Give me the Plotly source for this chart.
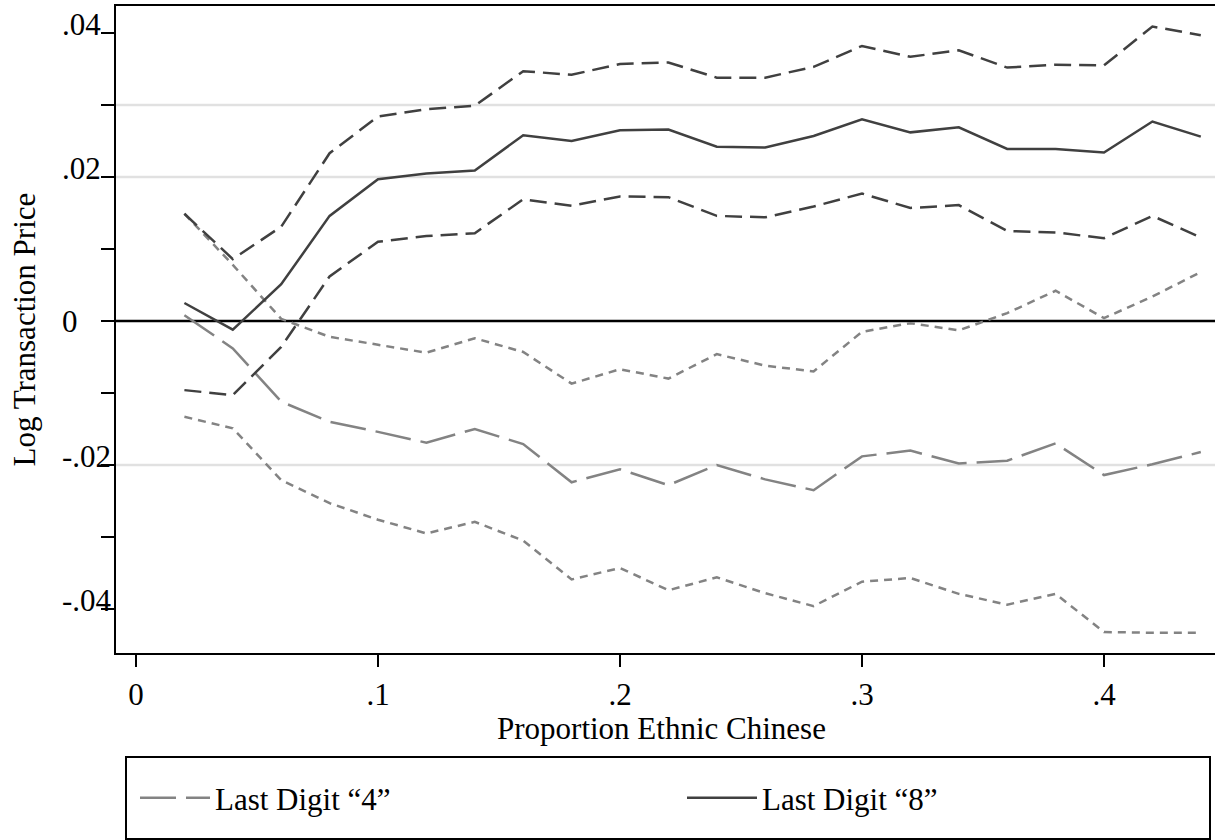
import plotly.graph_objects as go

# ---- data ----
x_share = [0.02, 0.04, 0.06, 0.08, 0.10, 0.12, 0.14, 0.16, 0.18, 0.20, 0.22,
           0.24, 0.26, 0.28, 0.30, 0.32, 0.34, 0.36, 0.38, 0.40, 0.42, 0.44]

est8 = [0.0025, -0.0012, 0.0051, 0.0146, 0.0197, 0.0205, 0.0209, 0.0258, 0.0250, 0.0265, 0.0266,
        0.0242, 0.0241, 0.0257, 0.0280, 0.0262, 0.0269, 0.0239, 0.0239, 0.0234, 0.0277, 0.0256]
hi8 = [0.0149, 0.0086, 0.0131, 0.0233, 0.0284, 0.0294, 0.0299, 0.0347, 0.0342, 0.0357, 0.0359,
       0.0338, 0.0338, 0.0353, 0.0382, 0.0367, 0.0376, 0.0352, 0.0356, 0.0355, 0.0409, 0.0397]
lo8 = [-0.0096, -0.0103, -0.0036, 0.0062, 0.0110, 0.0118, 0.0122, 0.0169, 0.0160, 0.0173, 0.0172,
       0.0146, 0.0144, 0.0159, 0.0177, 0.0157, 0.0161, 0.0125, 0.0123, 0.0115, 0.0146, 0.0116]

est4 = [0.0008, -0.0038, -0.0112, -0.0140, -0.0154, -0.0169, -0.0150, -0.0171, -0.0224, -0.0206, -0.0228,
        -0.0200, -0.0220, -0.0235, -0.0188, -0.0180, -0.0198, -0.0194, -0.0170, -0.0214, -0.0199, -0.0182]
hi4 = [0.0149, 0.0078, 0.0003, -0.0022, -0.0033, -0.0044, -0.0024, -0.0043, -0.0087, -0.0067, -0.0080,
       -0.0046, -0.0062, -0.0070, -0.0015, -0.0003, -0.0013, 0.0011, 0.0042, 0.0004, 0.0034, 0.0068]
lo4 = [-0.0133, -0.0149, -0.0221, -0.0253, -0.0276, -0.0295, -0.0279, -0.0305, -0.0359, -0.0343, -0.0374,
       -0.0356, -0.0378, -0.0396, -0.0362, -0.0357, -0.0379, -0.0394, -0.0379, -0.0432, -0.0433, -0.0433]

x_tick_vals = [0, 0.1, 0.2, 0.3, 0.4]
x_tick_text = ["0", ".1", ".2", ".3", ".4"]
y_tick_vals = [-0.04, -0.03, -0.02, -0.01, 0, 0.01, 0.02, 0.03, 0.04]
y_label_vals = [-0.04, -0.02, 0, 0.02, 0.04]
y_label_text = ["-.04", "-.02", "0", ".02", ".04"]
grid_vals = [0.03, 0.02, -0.02]

name4 = "Last Digit \u201c4\u201d"
name8 = "Last Digit \u201c8\u201d"
x_title = "Proportion Ethnic Chinese"
y_title = "Log Transaction Price"

# ---- styles ----
FONT = "Liberation Serif, Times New Roman, serif"
FS = 31
DARK = "#404040"
GRAY = "#838383"
LW = 2.5

W, H = 1215, 840
ML, MR, MT, MB = 116, 0, 6, 187
PW = W - ML - MR
PH = H - MT - MB


def px_x(p):
    return (p - ML) / PW


def px_y(p):
    return (H - MB - p) / PH


fig = go.Figure()

fig.add_trace(go.Scatter(x=x_share, y=hi4, mode="lines", showlegend=False,
                         line=dict(color=GRAY, width=LW, dash="8px,6px")))
fig.add_trace(go.Scatter(x=x_share, y=lo4, mode="lines", showlegend=False,
                         line=dict(color=GRAY, width=LW, dash="8px,6px")))
fig.add_trace(go.Scatter(x=x_share, y=est4, mode="lines", name=name4, legend="legend",
                         line=dict(color=GRAY, width=LW, dash="36px,10px")))
fig.add_trace(go.Scatter(x=x_share, y=hi8, mode="lines", showlegend=False,
                         line=dict(color=DARK, width=LW, dash="17px,8px")))
fig.add_trace(go.Scatter(x=x_share, y=lo8, mode="lines", showlegend=False,
                         line=dict(color=DARK, width=LW, dash="17px,8px")))
fig.add_trace(go.Scatter(x=x_share, y=est8, mode="lines", name=name8, legend="legend2",
                         line=dict(color=DARK, width=LW)))

for g in grid_vals:
    fig.add_hline(y=g, line=dict(color="#e1e1e1", width=2.5), layer="below")
fig.add_hline(y=0, line=dict(color="black", width=2.5), layer="below")

x_lo = (ML - 136) / 2420
x_hi = (W - MR - 136) / 2420
y_hi = (321 - MT) / 7200
y_lo = (321 - (H - MB)) / 7200

legend_common = dict(orientation="h", xanchor="left", y=px_y(798), yanchor="middle",
                     font=dict(family=FONT, size=FS), itemwidth=70,
                     bgcolor="rgba(0,0,0,0)", borderwidth=0)

fig.update_layout(
    width=W, height=H,
    margin=dict(l=ML, r=MR, t=MT, b=MB, pad=0),
    paper_bgcolor="white", plot_bgcolor="white",
    font=dict(family=FONT, size=FS, color="black"),
    xaxis=dict(range=[x_lo, x_hi], tickvals=x_tick_vals, ticktext=x_tick_text,
               showgrid=False, zeroline=False, showline=True, linecolor="black",
               linewidth=2, mirror=True, ticks="outside", ticklen=12, tickwidth=1.5,
               tickcolor="black", tickfont=dict(family=FONT, size=FS),
               ticklabelstandoff=1),
    yaxis=dict(range=[y_lo, y_hi], tickvals=y_tick_vals, showticklabels=False,
               showgrid=False, zeroline=False, showline=True, linecolor="black",
               linewidth=2, ticks="outside", ticklen=13, tickwidth=1.5, tickcolor="black"),
    legend=dict(x=px_x(135), **legend_common),
    legend2=dict(x=px_x(682), **legend_common),
)

# y tick labels (left aligned, sitting on the tick)
for v, t in zip(y_label_vals, y_label_text):
    fig.add_annotation(x=px_x(60), xref="paper", xanchor="left", y=v, yref="y",
                       yanchor="middle", yshift=(0 if v == 0 else 9), text=t,
                       showarrow=False, font=dict(family=FONT, size=FS))

# axis titles
fig.add_annotation(x=px_x(661), xref="paper", xanchor="center", y=px_y(728), yref="paper",
                   yanchor="middle", text=x_title, showarrow=False,
                   font=dict(family=FONT, size=FS))
fig.add_annotation(x=px_x(24), xref="paper", xanchor="center", y=0.5, yref="paper",
                   yanchor="middle", text=y_title, textangle=-90, showarrow=False,
                   font=dict(family=FONT, size=FS))

# legend frame
fig.add_shape(type="rect", xref="paper", yref="paper",
              x0=px_x(126), x1=px_x(1210), y0=px_y(839), y1=px_y(757),
              line=dict(color="black", width=2))

fig.write_html("out.html", config={"displayModeBar": False},
               post_script="document.body.style.margin='0';document.body.style.overflow='hidden';")
